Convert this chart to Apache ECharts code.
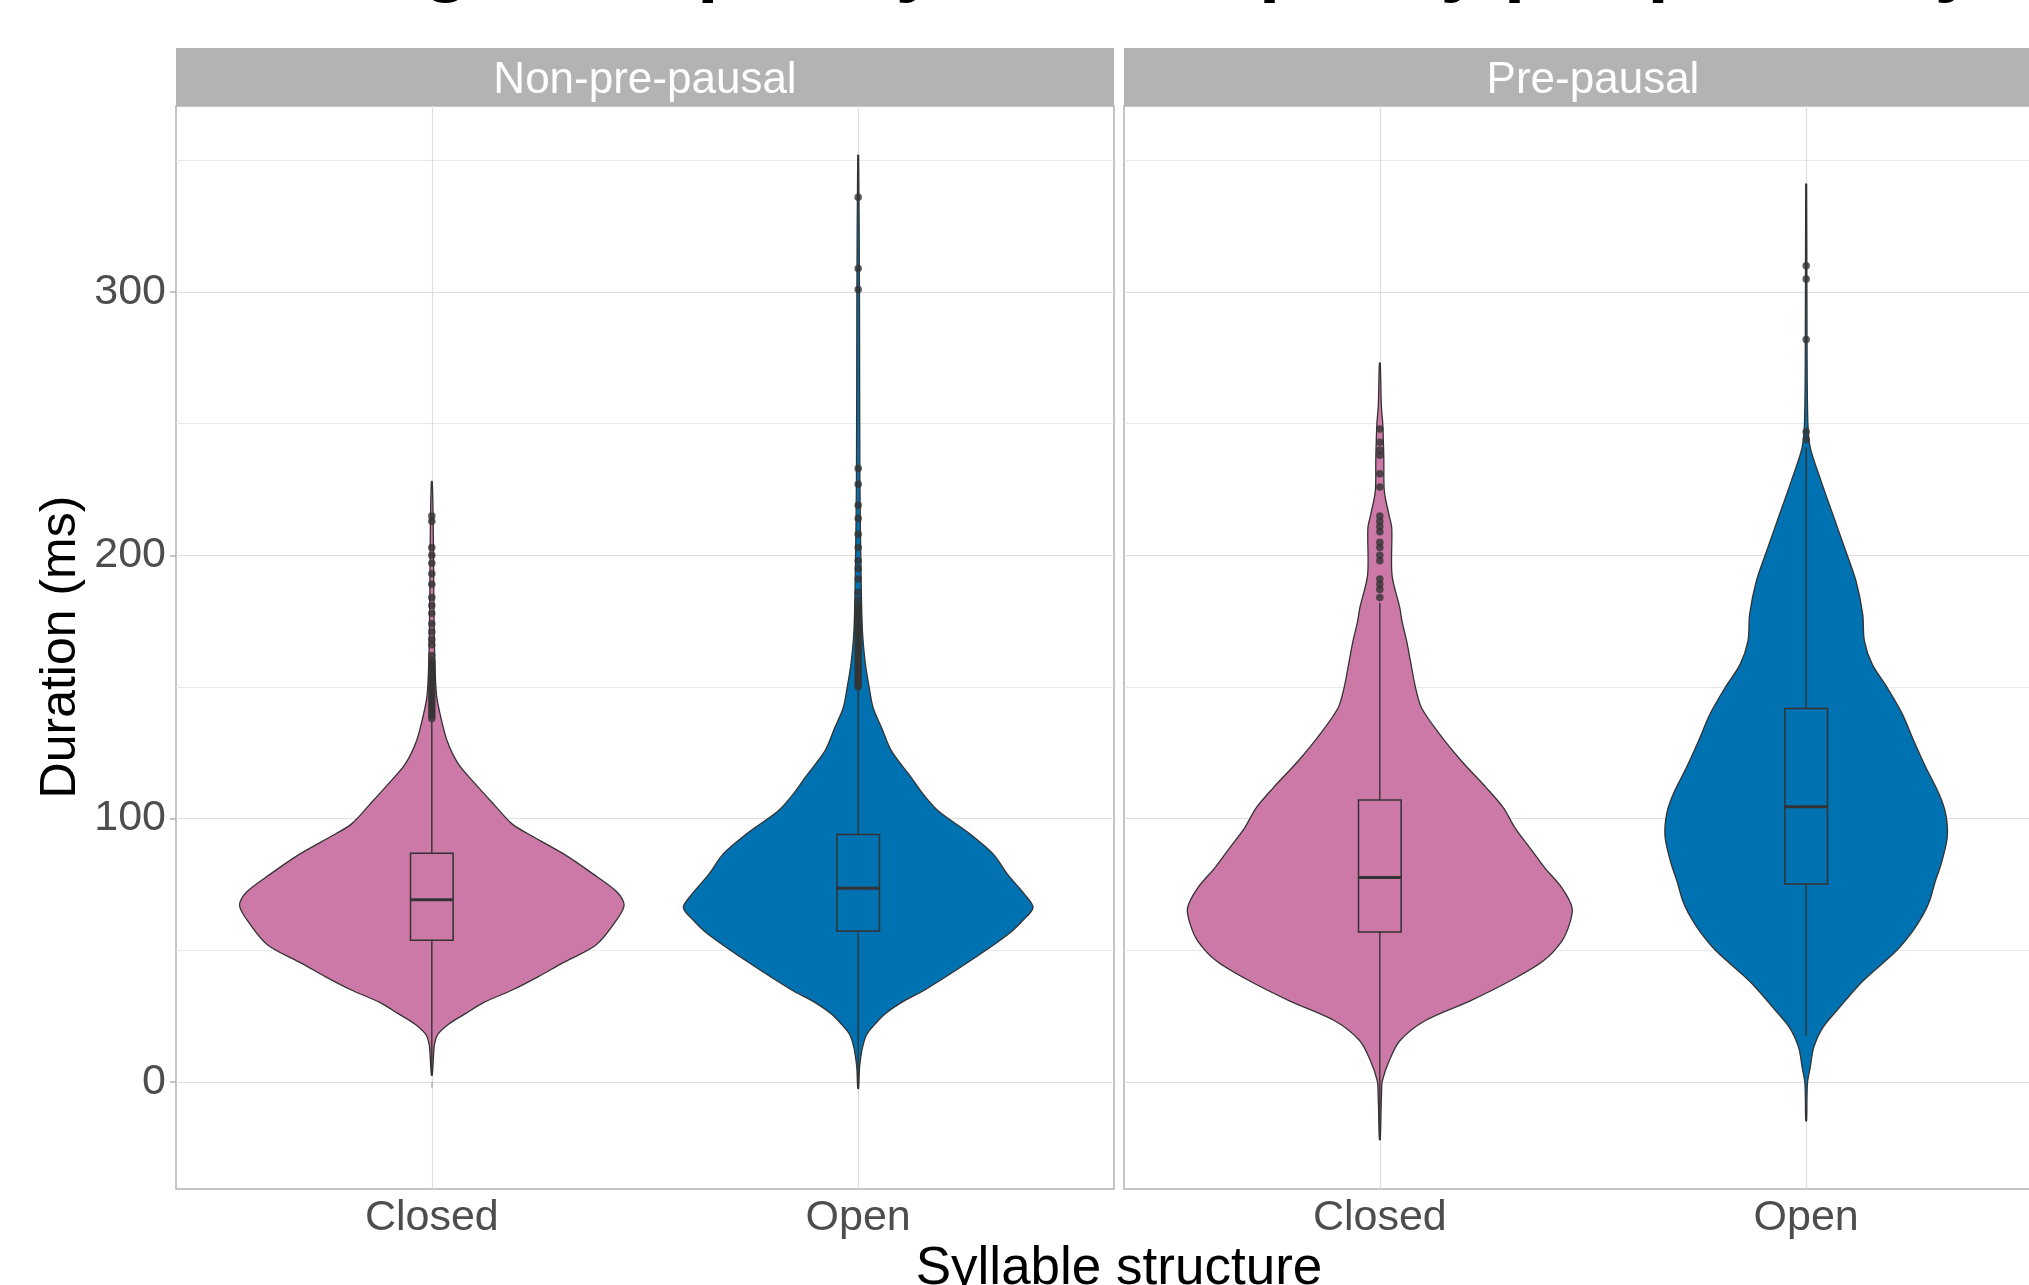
<!DOCTYPE html>
<html>
<head>
<meta charset="utf-8">
<script src="https://cdn.jsdelivr.net/npm/echarts@6/dist/echarts.min.js"></script>
<style>
  html, body { margin: 0; padding: 0; background: #ffffff; overflow: hidden; }
  /* the right panel runs past the window edge, as in the source picture */
  #chart { width: 2100px; height: 1285px; }
</style>
</head>
<body>
<div id="chart"></div>
<script>
  // facets / categories / ticks
  var facets = ['Non-pre-pausal', 'Pre-pausal'];
  var structures = ['Closed', 'Open'];
  var yTicks = [0, 100, 200, 300];
  var yMinorTicks = [50, 150, 250, 350];

  // violin outlines: duration (ms) and half width (x units)
  var npClosedY = [2.5, 10, 14, 18, 22, 26, 30, 35, 40, 45, 52, 60, 67, 72, 79, 86.5, 93, 98, 105.5, 113, 120.6, 129.5, 140, 147, 160, 180, 200, 215, 228];
  var npClosedW = [0.001, 0.004, 0.006, 0.014, 0.04, 0.08, 0.12, 0.19, 0.25, 0.305, 0.385, 0.427, 0.451, 0.435, 0.378, 0.31, 0.239, 0.188, 0.145, 0.103, 0.063, 0.036, 0.019, 0.011, 0.007, 0.005, 0.004, 0.003, 0.001];

  var npOpenY = [-2.5, 5, 8, 13, 18, 22, 25.7, 30, 35.3, 45.9, 56.1, 61.1, 66.2, 71.3, 78.9, 86.5, 94.7, 102.9, 109.2, 115.5, 125.7, 134.5, 142.1, 149.7, 158.6, 171.2, 190, 230, 300, 352];
  var npOpenW = [0.001, 0.003, 0.005, 0.01, 0.02, 0.04, 0.062, 0.1, 0.16, 0.262, 0.352, 0.385, 0.41, 0.39, 0.35, 0.317, 0.258, 0.188, 0.153, 0.125, 0.078, 0.055, 0.035, 0.026, 0.017, 0.01, 0.007, 0.004, 0.003, 0.001];

  var pClosedY = [-22, -10, -4.7, 0.4, 8, 15.6, 23.2, 30.7, 38.3, 45.9, 53.5, 60, 66.1, 73.7, 81.3, 88.9, 96.5, 104.1, 111.7, 121.8, 131.9, 142, 149.6, 159.7, 167.4, 175, 180, 192.6, 210.3, 215.4, 224.3, 236.9, 249.6, 257.2, 273];
  var pClosedW = [0.001, 0.003, 0.004, 0.006, 0.022, 0.047, 0.106, 0.211, 0.305, 0.383, 0.427, 0.445, 0.451, 0.427, 0.387, 0.352, 0.317, 0.29, 0.25, 0.192, 0.141, 0.098, 0.084, 0.072, 0.063, 0.052, 0.047, 0.0286, 0.028, 0.0215, 0.0106, 0.0094, 0.007, 0.0035, 0.001];

  var pOpenY = [-14.8, -5, 0.3, 5.4, 13, 20.6, 28.2, 38.3, 49.7, 57.3, 63.7, 69, 76.3, 83, 93.1, 102, 109.6, 119.7, 129.7, 139.9, 149.8, 158.6, 167.5, 177.6, 190.2, 202.9, 215.5, 228.2, 240.8, 250, 280, 341];
  var pOpenW = [0.001, 0.002, 0.0035, 0.0094, 0.0176, 0.039, 0.078, 0.133, 0.211, 0.25, 0.275, 0.29, 0.303, 0.317, 0.331, 0.327, 0.311, 0.28, 0.252, 0.225, 0.19, 0.155, 0.1365, 0.1326, 0.117, 0.09, 0.0626, 0.035, 0.0097, 0.004, 0.002, 0.001];

  // boxplot stats: [lower whisker, q1, median, q3, upper whisker]
  var npClosedBox = [2.5, 53.8, 69.2, 86.8, 137];
  var npOpenBox = [-2.5, 57.3, 73.5, 94.0, 149.5];
  var pClosedBox = [-22, 56.9, 77.6, 107.1, 182];
  var pOpenBox = [17.5, 75.2, 104.5, 141.8, 241];

  // outliers
  var npClosedOut = [138, 139, 140, 141, 142, 143, 144, 145, 146, 147, 148, 149, 150, 151, 152, 153, 154, 155, 156, 157, 158, 159, 160, 162, 166, 168, 171, 174, 178, 181, 184, 189, 193, 197, 200, 203, 213, 215];
  var npOpenOut = [150, 151, 152, 153, 154, 155, 156, 157, 158, 159, 160, 161, 162, 163, 164, 165, 166, 167, 168, 169, 170, 171, 172, 173, 174, 175, 176, 177, 178, 179, 180, 181, 183, 186, 191, 195, 198, 203, 208, 214, 219, 227, 233, 301, 309, 336];
  var pClosedOut = [184, 187, 189, 191, 198, 200, 203, 205, 209, 211, 213, 215, 226, 231, 238, 240, 243, 248];
  var pOpenOut = [244, 247, 282, 305, 310];

  var fillColors = ['#CC79A7', '#0072B2'];   // Closed, Open
  var ink = '#333333';
  var font = '"Liberation Sans", Arial, sans-serif';

  // one entry per violin: facet, x position, data
  var violins = [
    {facet: 0, x: 1, ys: npClosedY, ws: npClosedW, box: npClosedBox, out: npClosedOut, color: fillColors[0]},
    {facet: 0, x: 2, ys: npOpenY, ws: npOpenW, box: npOpenBox, out: npOpenOut, color: fillColors[1]},
    {facet: 1, x: 1, ys: pClosedY, ws: pClosedW, box: pClosedBox, out: pClosedOut, color: fillColors[0]},
    {facet: 1, x: 2, ys: pOpenY, ws: pOpenW, box: pOpenBox, out: pOpenOut, color: fillColors[1]}
  ];

  var panelLeft = [176, 1124];
  var panelTop = 106, panelW = 938, panelH = 1083;

  function renderViolin(params, api) {
    var v = violins[api.value(1)];
    var xc = api.value(0);
    var pts = [];
    var i;
    for (i = 0; i < v.ys.length; i++) pts.push(api.coord([xc + v.ws[i], v.ys[i]]));
    for (i = v.ys.length - 1; i >= 0; i--) pts.push(api.coord([xc - v.ws[i], v.ys[i]]));
    return {
      type: 'polygon',
      shape: {points: pts, smooth: 0.3},
      style: {fill: v.color, stroke: ink, lineWidth: 1.3}
    };
  }

  function renderBox(params, api) {
    var v = violins[api.value(1)];
    var xc = api.value(0);
    var b = v.box;
    var half = 0.05;
    var lo = api.coord([xc, b[0]]), q1 = api.coord([xc, b[1]]), md = api.coord([xc, b[2]]);
    var q3 = api.coord([xc, b[3]]), hi = api.coord([xc, b[4]]);
    var xl = api.coord([xc - half, b[2]])[0], xr = api.coord([xc + half, b[2]])[0];
    var lineSt = {stroke: ink, lineWidth: 1.4};
    return {
      type: 'group',
      children: [
        {type: 'line', shape: {x1: lo[0], y1: lo[1], x2: q1[0], y2: q1[1]}, style: lineSt},
        {type: 'line', shape: {x1: q3[0], y1: q3[1], x2: hi[0], y2: hi[1]}, style: lineSt},
        {type: 'rect', shape: {x: xl, y: q3[1], width: xr - xl, height: q1[1] - q3[1]},
          style: {fill: v.color, stroke: ink, lineWidth: 1.5}},
        {type: 'line', shape: {x1: xl, y1: md[1], x2: xr, y2: md[1]}, style: {stroke: ink, lineWidth: 3}}
      ]
    };
  }

  var grids = [], xAxes = [], yAxes = [], series = [];
  facets.forEach(function (f, g) {
    grids.push({
      left: panelLeft[g], top: panelTop, width: panelW, height: panelH,
      show: true, borderColor: '#B3B3B3', borderWidth: 1.5, backgroundColor: 'rgba(0,0,0,0)'
    });
    xAxes.push({
      gridIndex: g, type: 'value', min: 0.4, max: 2.6,
      axisLine: {show: false},
      axisTick: {show: true, length: 6, customValues: [1, 2], lineStyle: {color: '#B3B3B3', width: 1.5}},
      axisLabel: {
        customValues: [1, 2], margin: 8, fontSize: 43, color: '#4D4D4D', fontFamily: font,
        formatter: function (val) { return structures[Math.round(val) - 1]; }
      },
      splitLine: {show: true, lineStyle: {color: '#DEDEDE', width: 1.2}}
    });
    yAxes.push({
      gridIndex: g, type: 'value', min: -40.7, max: 370.7,
      axisLine: {show: false},
      axisTick: {show: g === 0, length: 6, customValues: yTicks, lineStyle: {color: '#B3B3B3', width: 1.5}},
      axisLabel: {show: g === 0, customValues: yTicks, margin: 10, fontSize: 43, color: '#4D4D4D', fontFamily: font},
      splitLine: {show: true, lineStyle: {color: '#DEDEDE', width: 1.2}}
    });
  });
  // minor gridlines
  facets.forEach(function (f, g) {
    yAxes.push({
      gridIndex: g, type: 'value', min: -40.7, max: 370.7, position: 'left',
      axisLine: {show: false},
      axisTick: {show: false, customValues: yMinorTicks},
      axisLabel: {show: false},
      splitLine: {show: true, lineStyle: {color: '#E6E6E6', width: 0.9}}
    });
  });

  facets.forEach(function (f, g) {
    var ids = [];
    violins.forEach(function (v, i) { if (v.facet === g) ids.push([v.x, i]); });
    series.push({
      type: 'custom', xAxisIndex: g, yAxisIndex: g, z: 2,
      renderItem: renderViolin, data: ids, silent: true
    });
    series.push({
      type: 'custom', xAxisIndex: g, yAxisIndex: g, z: 3,
      renderItem: renderBox, data: ids, silent: true
    });
    var pts = [];
    violins.forEach(function (v) {
      if (v.facet === g) v.out.forEach(function (o) { pts.push([v.x, o]); });
    });
    series.push({
      type: 'scatter', xAxisIndex: g, yAxisIndex: g, z: 4,
      symbol: 'circle', symbolSize: 7.5, itemStyle: {color: ink}, data: pts, silent: true
    });
  });

  var graphics = [];
  facets.forEach(function (f, g) {
    graphics.push({type: 'rect', shape: {x: panelLeft[g], y: 48, width: panelW, height: 58}, style: {fill: '#B3B3B3'}});
    graphics.push({type: 'text', x: panelLeft[g] + panelW / 2, y: 81,
      style: {text: f, fill: '#ffffff', font: '44px ' + font, align: 'center', verticalAlign: 'middle'}});
  });
  graphics.push({type: 'text', x: 61, y: 647, rotation: Math.PI / 2,
    style: {text: 'Duration (ms)', fill: '#000000', font: '50px ' + font, align: 'center', verticalAlign: 'middle'}});
  graphics.push({type: 'text', x: 1119, y: 1269,
    style: {text: 'Syllable structure', fill: '#000000', font: '53px ' + font, align: 'center', verticalAlign: 'middle'}});
  // plot title, mostly above the visible area
  graphics.push({type: 'text', x: 78, y: 4,
    style: {text: 'Vowel length in open syllables, split by pre-pausality', fill: '#000000',
      font: 'bold 76px ' + font, align: 'left', verticalAlign: 'bottom'}});

  var myChart = echarts.init(document.getElementById('chart'));
  myChart.setOption({
    animation: false,
    backgroundColor: '#ffffff',
    grid: grids,
    xAxis: xAxes,
    yAxis: yAxes,
    series: series,
    graphic: graphics
  });
</script>
</body>
</html>
